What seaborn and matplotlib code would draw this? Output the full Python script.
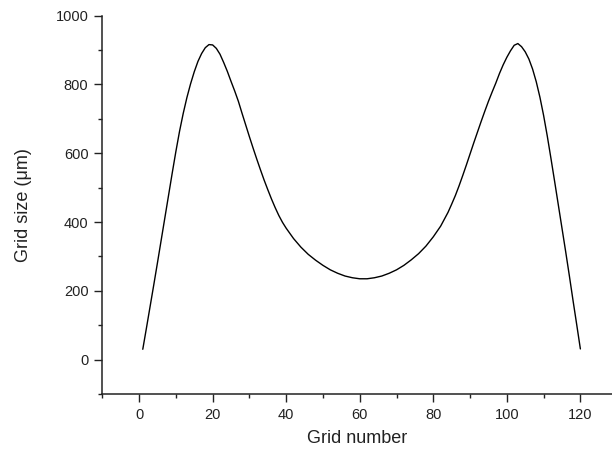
import matplotlib
matplotlib.use("Agg")
import matplotlib.pyplot as plt
from matplotlib.ticker import MultipleLocator
import seaborn as sns
import pandas as pd

grid_number = [1, 2, 3, 4, 5, 6, 7, 8, 9, 10, 11, 12, 13, 14, 15, 16, 17, 18, 19, 20,
               21, 22, 23, 24, 25, 26, 27, 28, 29, 30, 31, 32, 33, 34, 35, 36, 37, 38,
               39, 40, 42, 44, 46, 48, 50, 52, 54, 56, 58, 60, 62, 64, 66, 68, 70, 72,
               74, 76, 78, 80, 82, 84, 85, 86, 87, 88, 89, 90, 91, 92, 93, 94, 95, 96,
               97, 98, 99, 100, 101, 102, 103, 104, 105, 106, 107, 108, 109, 110, 111,
               112, 113, 114, 115, 116, 117, 118, 119, 120]
grid_size = [30, 92, 155, 218, 282, 347, 412, 477, 542, 605, 664, 716, 762, 802, 837,
             867, 890, 907, 916, 915, 905, 888, 864, 838, 809, 781, 751, 716, 682, 648,
             615, 583, 552, 522, 494, 467, 442, 419, 399, 382, 352, 327, 306, 289, 274,
             261, 251, 243, 238, 235, 235, 238, 243, 251, 261, 274, 290, 308, 330, 357,
             388, 428, 452, 477, 505, 535, 566, 598, 630, 661, 692, 722, 751, 778, 804,
             832, 857, 879, 898, 914, 919, 910, 895, 874, 845, 808, 763, 710, 650, 585,
             518, 450, 382, 314, 244, 172, 102, 31]

x_ticks = [0, 20, 40, 60, 80, 100, 120]
y_ticks = [0, 200, 400, 600, 800, 1000]

sns.set_style("ticks")
plt.rcParams['font.family'] = ['Liberation Sans', 'DejaVu Sans']

df = pd.DataFrame({"Grid number": grid_number, "Grid size": grid_size})

fig = plt.figure(figsize=(6.12, 4.54), dpi=100)
ax = fig.add_axes([0.1672, 0.1322, 1.0 - 0.1672, 0.9654 - 0.1322])

sns.lineplot(data=df, x="Grid number", y="Grid size", ax=ax, color="black",
             linewidth=1.0, sort=False, estimator=None)

ax.set_xlim(-10, 128.6)
ax.set_ylim(-100, 1000)
ax.set_xticks(x_ticks)
ax.set_yticks(y_ticks)
ax.xaxis.set_minor_locator(MultipleLocator(10))
ax.yaxis.set_minor_locator(MultipleLocator(100))

sns.despine(ax=ax)
for s in ["left", "bottom"]:
    ax.spines[s].set_linewidth(1.1)
    ax.spines[s].set_color("#222222")

ax.tick_params(axis="both", which="major", length=6, width=1.0, direction="out",
               labelsize=10.5, colors="#222222", pad=4)
ax.tick_params(axis="both", which="minor", length=3, width=1.0, direction="out",
               colors="#222222")

ax.set_xlabel("Grid number", fontsize=13, color="#222222", labelpad=6)
ax.set_ylabel("Grid size (\u03bcm)", fontsize=13, color="#222222", labelpad=17)

fig.savefig("out.png", dpi=100)
